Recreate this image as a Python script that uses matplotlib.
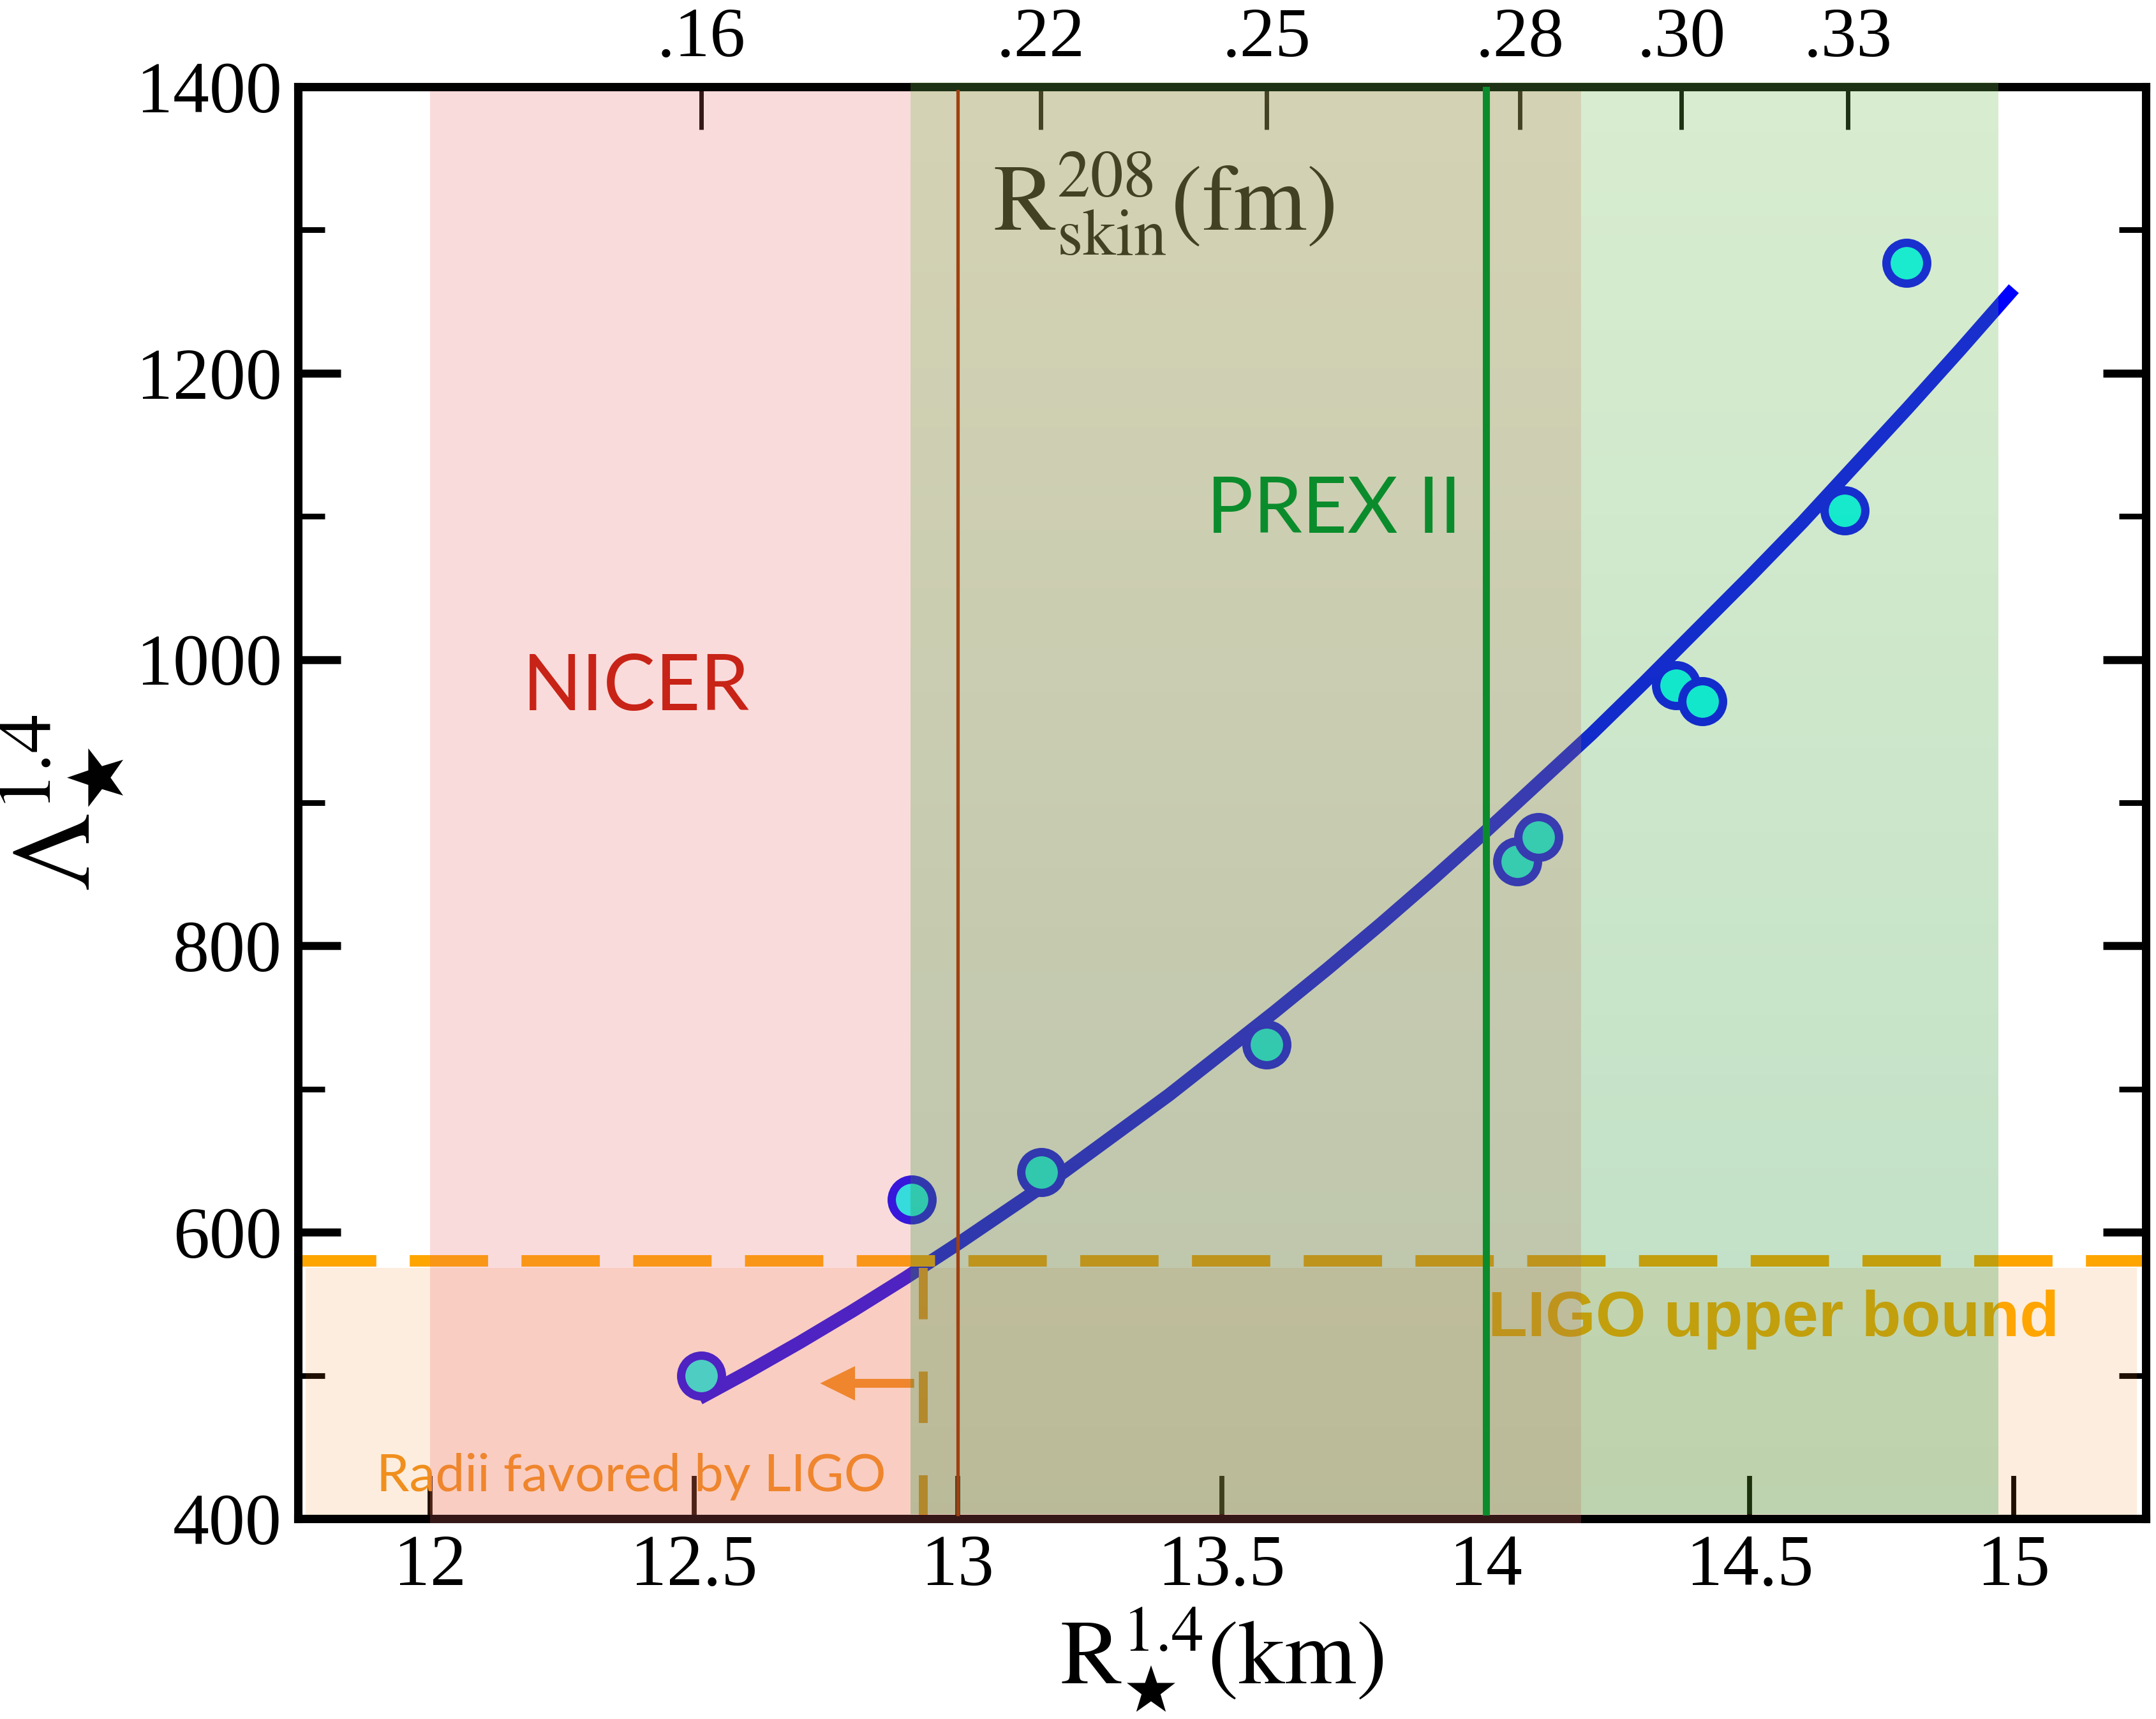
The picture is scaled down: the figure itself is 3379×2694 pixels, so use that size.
import numpy as np
import matplotlib
matplotlib.use("Agg")
import matplotlib.pyplot as plt
from matplotlib.ticker import MultipleLocator, NullLocator

plt.rcParams["font.family"] = ["Liberation Serif", "DejaVu Serif"]
plt.rcParams["mathtext.fontset"] = "stix"

# EOS models: radius and tidal deformability of a 1.4 Msun star
radius = [12.514, 12.912, 13.158, 13.584, 14.06, 14.10, 14.361, 14.41, 14.68, 14.797]
lam = [500, 623, 642, 731, 859, 876, 982, 971, 1104, 1277]

# fitted curve
fit_r = [12.51, 12.6, 12.7, 12.8, 12.9, 13.0, 13.1, 13.2, 13.3, 13.4, 13.5, 13.6, 13.7,
         13.8, 13.9, 14.0, 14.1, 14.2, 14.3, 14.4, 14.5, 14.6, 14.7, 14.8, 14.9, 15.0]
fit_lam = [484, 502, 523, 545, 568, 592, 617, 642, 669, 696, 725, 754, 784,
           815, 847, 880, 914, 948, 984, 1021, 1058, 1096, 1136, 1176, 1217, 1259]

# top axis: 208Pb neutron skin of the same models
skin_pos = [12.514, 13.157, 13.585, 14.064, 14.37, 14.686]
skin_labels = [".16", ".22", ".25", ".28", ".30", ".33"]

x_ticks = [12, 12.5, 13, 13.5, 14, 14.5, 15]
x_tick_labels = ["12", "12.5", "13", "13.5", "14", "14.5", "15"]
y_ticks = [400, 600, 800, 1000, 1200, 1400]

nicer_band = (12.0, 14.18)
prex_band = (12.91, 14.97)
nicer_line = 13.0
prex_line = 14.0
ligo_lam = 580        # LIGO upper bound on Lambda
ligo_r = 12.934       # radius where the fit crosses it
arrow_end = 12.739
arrow_lam = 494.5

fig = plt.figure(figsize=(16.9, 13.47), dpi=200)
ax = fig.add_axes([0.1382, 0.11656, 0.85677, 0.83296])
ax.set_xlim(11.75, 15.25)
ax.set_ylim(400, 1400)

# LIGO favoured region (under the text, over the markers)
ax.axhspan(400, ligo_lam - 5, xmin=0.004, xmax=0.995,
           color=(0.94, 0.48, 0.0), alpha=0.13, lw=0, zorder=4)

ax.plot(fit_r, fit_lam, color="#0000ff", lw=7.5, solid_capstyle="butt", zorder=2)
ax.plot(radius, lam, "o", ms=23, mfc="#00ffff", mec="#0000ff", mew=4.7, zorder=3)

ax.axhline(ligo_lam, color="#ffa500", lw=6.5, dashes=(6.8, 2.9), zorder=5)
ax.plot([ligo_r, ligo_r], [ligo_lam - 5, 400], color="#ec941c", lw=5,
        dashes=(5.8, 5.9), zorder=5)
ax.arrow(ligo_r - 0.017, arrow_lam, arrow_end - (ligo_r - 0.017), 0, width=6.2,
         head_width=24, head_length=0.066, length_includes_head=True,
         color="#f08f1d", lw=0, zorder=5)

ax.text(12.39, 980, "NICER", color="#bd1000", fontsize=44, family="Lato",
        ha="center", va="center", zorder=5)
ax.text(14.004, 527.5, "LIGO upper bound", color="#ffa500", fontsize=36.5,
        family="Liberation Sans", weight="bold", ha="left", va="baseline", zorder=5)
ax.text(11.899, 419.6, "Radii favored by LIGO", color="#f08f1d", fontsize=29.6,
        family="Lato", ha="left", va="baseline", zorder=5)
ax.text(13.39, 1300, r"$\mathrm{R}^{208}_{\mathrm{skin}}\mathrm{(fm)}$", color="black",
        fontsize=53, ha="center", va="baseline", zorder=5)

ax.set_xticks(x_ticks)
ax.set_xticklabels(x_tick_labels)
ax.set_yticks(y_ticks)
ax.xaxis.set_minor_locator(NullLocator())
ax.yaxis.set_minor_locator(MultipleLocator(100))
ax.tick_params(axis="x", which="major", direction="in", length=24, width=2.8,
               labelsize=41, pad=9)
ax.tick_params(axis="y", which="major", direction="in", length=24, width=4.5,
               labelsize=41, pad=9, left=True, right=True)
ax.tick_params(axis="y", which="minor", direction="in", length=15, width=3.2,
               left=True, right=True)
for s in ax.spines.values():
    s.set_linewidth(4.7)

ax.set_xlabel(r"$\mathrm{R}_{\bigstar}^{1.4}\mathrm{(km)}$", fontsize=52, labelpad=3)
ax.set_ylabel(r"$\Lambda_{\bigstar}^{1.4}$", fontsize=63, labelpad=6)

# top axis and the shaded constraint bands drawn over everything
ax2 = ax.twiny()
ax2.set_xlim(ax.get_xlim())
ax2.set_xticks(skin_pos)
ax2.set_xticklabels(skin_labels)
ax2.xaxis.set_minor_locator(NullLocator())
ax2.tick_params(axis="x", direction="in", length=24, width=2.5, labelsize=40, pad=9)
for s in ax2.spines.values():
    s.set_linewidth(4.7)

ax2.axvspan(nicer_band[0], nicer_band[1], ymin=-0.003, ymax=0.997,
            color=(0.93, 0.40, 0.40), alpha=0.23, lw=0, zorder=10, clip_on=False)

top_c = np.array([0.44, 0.74, 0.30])
bot_c = np.array([0.06, 0.54, 0.17])
t = np.linspace(0, 1, 256)[:, None]
grad = np.zeros((256, 1, 4))
grad[:, 0, :3] = bot_c + t * (top_c - bot_c)
grad[:, 0, 3] = 0.27
im = ax2.imshow(grad, extent=(prex_band[0], prex_band[1], 403, 1403), origin="lower",
                aspect="auto", interpolation="bilinear", zorder=10)
im.set_clip_on(False)

ax2.axvline(nicer_line, ymin=0.003, ymax=0.997, color="#a0400f", lw=1.9, zorder=11)
ax2.axvline(prex_line, ymin=0.005, ymax=1.0, color="#0b8c2c", lw=4, zorder=11)
ax2.text(13.712, 1104, "PREX II", color="#0b8c2c", fontsize=44, family="Lato",
         ha="center", va="center", zorder=11)

ax2.set_xlim(11.75, 15.25)
ax.set_ylim(400, 1400)

fig.savefig("out.png", dpi=200)
